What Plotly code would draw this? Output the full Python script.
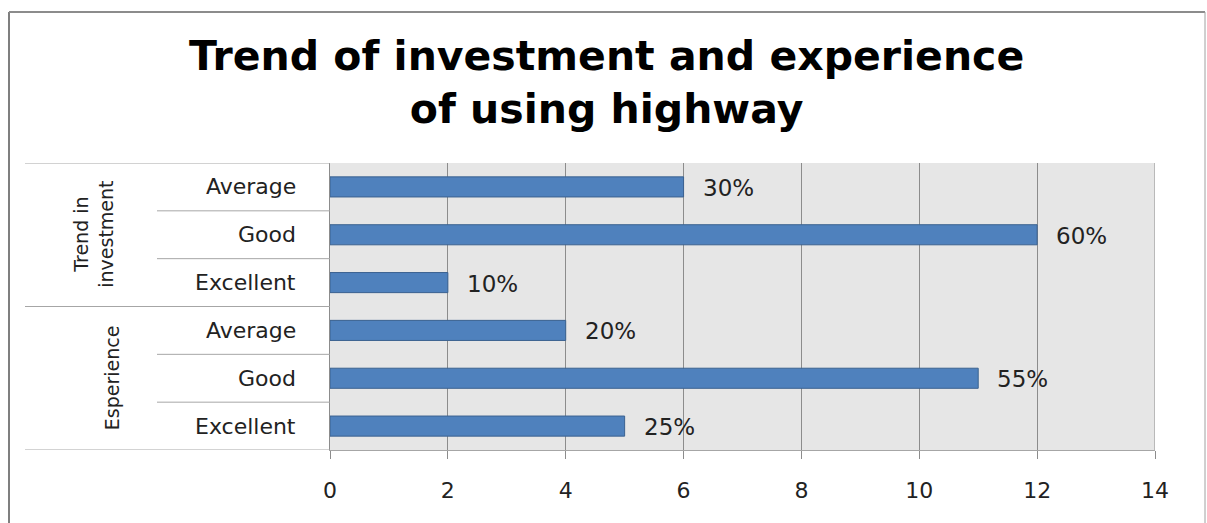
import plotly.graph_objects as go

# ---- data ----
groups = ["Trend in<br>investment", "Esperience"]
group_sizes = [3, 3]
categories = ["Average", "Good", "Excellent", "Average", "Good", "Excellent"]
values = [6, 12, 2, 4, 11, 5]
pct_labels = ["30%", "60%", "10%", "20%", "55%", "25%"]
x_ticks = [0, 2, 4, 6, 8, 10, 12, 14]
title_text = "<b>Trend of investment and experience<br>of using highway</b>"

W, H = 1207, 523
L, R, T, B = 330, 52, 163, 73
plot_w = W - L - R
plot_h = H - T - B

def px_x(p):
    return (p - L) / plot_w

def px_y(p):
    return (H - B - p) / plot_h

idx = list(range(len(categories)))
FONT = "DejaVu Sans"
LINE = "#a6a6a6"

fig = go.Figure()
fig.add_trace(go.Bar(
    x=values, y=idx, orientation="h", width=0.42,
    marker=dict(color="#4f81bd", line=dict(color="#3b6290", width=1)),
    hoverinfo="skip", showlegend=False,
))

annotations = []
# data labels
for i, (v, lab) in enumerate(zip(values, pct_labels)):
    annotations.append(dict(x=v, y=i, xref="x", yref="y", text=lab, showarrow=False,
                            xanchor="left", yanchor="middle", xshift=17, yshift=-1,
                            font=dict(family=FONT, size=23, color="#222222")))
# category labels
for i, c in enumerate(categories):
    annotations.append(dict(x=0, y=i, xref="paper", yref="y", text=c, showarrow=False,
                            xanchor="right", yanchor="middle", xshift=-32,
                            font=dict(family=FONT, size=22, color="#222222")))
# group labels
start = 0
group_x = [px_x(94), px_x(112)]
for g, n, gx in zip(groups, group_sizes, group_x):
    mid = start + (n - 1) / 2
    annotations.append(dict(x=gx, y=mid, xref="paper", yref="y", text=g, showarrow=False,
                            textangle=-90, xanchor="center", yanchor="middle",
                            font=dict(family=FONT, size=19, color="#222222")))
    start += n
# title
annotations.append(dict(x=px_x(606), y=px_y(82), xref="paper", yref="paper", text=title_text,
                        showarrow=False, xanchor="center", yanchor="middle",
                        font=dict(family="DejaVu Sans", size=41, color="#000000")))

shapes = []
# group separator lines
bounds = [-0.5]
acc = -0.5
for n in group_sizes:
    acc += n
    bounds.append(acc)
for b in bounds:
    shapes.append(dict(type="line", xref="paper", yref="y", x0=px_x(25), x1=0, y0=b, y1=b,
                       line=dict(color=LINE, width=1)))
# sub separators
start = 0
for n in group_sizes:
    for k in range(1, n):
        yb = start - 0.5 + k
        shapes.append(dict(type="line", xref="paper", yref="y", x0=px_x(157), x1=0, y0=yb, y1=yb,
                           line=dict(color=LINE, width=1)))
    start += n
# right edge grid line
shapes.append(dict(type="line", xref="x", yref="y", x0=14, x1=14, y0=-0.5, y1=5.5,
                   line=dict(color="#8c8c8c", width=1)))
# outer frame
shapes.append(dict(type="line", xref="paper", yref="paper", x0=px_x(9), x1=px_x(9),
                   y0=px_y(12), y1=px_y(530), line=dict(color="#7f7f7f", width=2)))
shapes.append(dict(type="line", xref="paper", yref="paper", x0=px_x(9), x1=px_x(1205),
                   y0=px_y(12), y1=px_y(12), line=dict(color="#8c8c8c", width=2)))
shapes.append(dict(type="line", xref="paper", yref="paper", x0=px_x(1205), x1=px_x(1205),
                   y0=px_y(12), y1=px_y(530), line=dict(color="#a0a0a0", width=1)))

fig.update_layout(
    width=W, height=H,
    margin=dict(l=L, r=R, t=T, b=B, pad=0),
    paper_bgcolor="white", plot_bgcolor="#e6e6e6",
    bargap=0.58,
    annotations=annotations, shapes=shapes,
    xaxis=dict(range=[0, 14], tickvals=x_ticks, ticktext=[str(t) for t in x_ticks],
               showgrid=True, gridcolor="#8c8c8c", gridwidth=1,
               ticks="outside", ticklen=8, tickcolor="#8c8c8c",
               showline=True, linecolor=LINE, linewidth=1, zeroline=False,
               ticklabelstandoff=13,
               tickfont=dict(family=FONT, size=22, color="#222222"), fixedrange=True),
    yaxis=dict(range=[5.5, -0.5], showticklabels=False, showgrid=False, zeroline=False,
               showline=True, linecolor="#8c8c8c", linewidth=1, ticks="", fixedrange=True),
)

fig.write_html("out.html")
